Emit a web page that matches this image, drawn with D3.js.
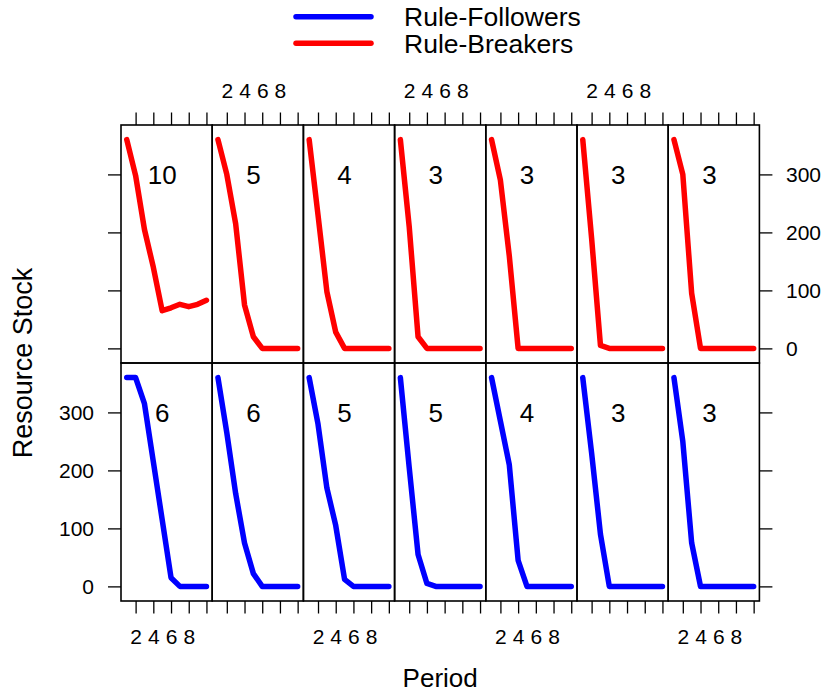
<!DOCTYPE html>
<html>
<head>
<meta charset="utf-8">
<script src="https://cdn.jsdelivr.net/npm/d3@7"></script>
<style>
  body { margin: 0; background: #fff; }
  svg { font-family: "Liberation Sans", Arial, sans-serif; }
  .axis text { font-size: 21px; fill: #000; }
  .axis line { stroke: #000; stroke-width: 1.3; }
</style>
</head>
<body>
<div id="chart"></div>
<script>
// x values of every line
const periods = [1, 2, 3, 4, 5, 6, 7, 8, 9, 10];

// one row per group, one entry per column (panel)
const groups = ["Rule-Breakers", "Rule-Followers"];
const groupColors = ["#ff0000", "#0000ff"];

const breakerLabels = [10, 5, 4, 3, 3, 3, 3];
const breakerStock = [
  [360, 298, 205, 140, 65, 70, 76, 72, 76, 83],
  [360, 300, 215, 75, 20, 0, 0, 0, 0, 0],
  [360, 230, 98, 28, 0, 0, 0, 0, 0, 0],
  [360, 210, 20, 0, 0, 0, 0, 0, 0, 0],
  [360, 290, 160, 0, 0, 0, 0, 0, 0, 0],
  [360, 190, 5, 0, 0, 0, 0, 0, 0, 0],
  [360, 300, 95, 0, 0, 0, 0, 0, 0, 0],
];

const followerLabels = [6, 6, 5, 5, 4, 3, 3];
const followerStock = [
  [360, 360, 315, 215, 115, 15, 0, 0, 0, 0],
  [360, 265, 160, 75, 22, 0, 0, 0, 0, 0],
  [360, 280, 170, 105, 12, 0, 0, 0, 0, 0],
  [360, 205, 55, 5, 0, 0, 0, 0, 0, 0],
  [360, 285, 210, 45, 0, 0, 0, 0, 0, 0],
  [360, 230, 90, 0, 0, 0, 0, 0, 0, 0],
  [360, 250, 75, 0, 0, 0, 0, 0, 0, 0],
];

const xTicks = [2, 4, 6, 8, 10];
const xTickLabels = ["2", "4", "6", "8", ""];
const yTicks = [0, 100, 200, 300];

const width = 822;
const height = 694;
const margin = { top: 125, right: 62.6, bottom: 93, left: 121 };
const tickLen = 12.5;

const columns = d3.range(breakerStock.length);

const panels = [];
columns.forEach((c) => {
  panels.push({ row: groups[0], col: c, color: groupColors[0], label: breakerLabels[c], values: breakerStock[c] });
  panels.push({ row: groups[1], col: c, color: groupColors[1], label: followerLabels[c], values: followerStock[c] });
});

const xGrid = d3.scaleBand().domain(columns).range([margin.left, width - margin.right]);
const yGrid = d3.scaleBand().domain(groups).range([margin.top, height - margin.bottom]);
const x = d3.scaleLinear().domain([0.35, 10.65]).range([0, xGrid.bandwidth()]);
const y = d3.scaleLinear().domain([-25.2, 385.2]).range([yGrid.bandwidth(), 0]);

const svg = d3.select("#chart").append("svg")
  .attr("width", width)
  .attr("height", height)
  .attr("viewBox", [0, 0, width, height]);

// legend
const legend = svg.append("g").attr("class", "legend");
const legendItems = [
  { name: "Rule-Followers", color: groupColors[1] },
  { name: "Rule-Breakers", color: groupColors[0] },
];
legendItems.forEach((d, i) => {
  const ly = 16.7 + i * 26.6;
  legend.append("line")
    .attr("x1", 296).attr("x2", 371)
    .attr("y1", ly).attr("y2", ly)
    .attr("stroke", d.color)
    .attr("stroke-width", 5.5)
    .attr("stroke-linecap", "round");
  legend.append("text")
    .attr("x", 404).attr("y", ly)
    .attr("dy", "0.36em")
    .attr("font-size", 26.5)
    .text(d.name);
});

// top axes (labels on even columns only)
columns.forEach((c) => {
  svg.append("g")
    .attr("class", "axis")
    .attr("transform", `translate(${xGrid(c)},${margin.top})`)
    .call(d3.axisTop(x).tickValues(xTicks).tickSize(tickLen).tickPadding(14.2)
      .tickFormat((d, i) => (c % 2 === 1 ? xTickLabels[i] : "")))
    .call((g) => g.select(".domain").remove());

  svg.append("g")
    .attr("class", "axis")
    .attr("transform", `translate(${xGrid(c)},${height - margin.bottom})`)
    .call(d3.axisBottom(x).tickValues(xTicks).tickSize(tickLen).tickPadding(15.6)
      .tickFormat((d, i) => (c % 2 === 0 ? xTickLabels[i] : "")))
    .call((g) => g.select(".domain").remove());
});

// left / right axes
groups.forEach((r, ri) => {
  svg.append("g")
    .attr("class", "axis")
    .attr("transform", `translate(${margin.left},${yGrid(r)})`)
    .call(d3.axisLeft(y).tickValues(yTicks).tickSize(13).tickPadding(14)
      .tickFormat((d) => (ri === 1 ? d : "")))
    .call((g) => g.select(".domain").remove());

  svg.append("g")
    .attr("class", "axis")
    .attr("transform", `translate(${width - margin.right},${yGrid(r)})`)
    .call(d3.axisRight(y).tickValues(yTicks).tickSize(13).tickPadding(13.6)
      .tickFormat((d) => (ri === 0 ? d : "")))
    .call((g) => g.select(".domain").remove());
});

const line = d3.line()
  .x((d, i) => x(periods[i]))
  .y((d) => y(d));

const panel = svg.append("g")
  .selectAll(".panel")
  .data(panels)
  .join("g")
  .attr("class", "panel")
  .attr("transform", (d) => `translate(${xGrid(d.col)},${yGrid(d.row)})`);

panel.append("path")
  .attr("d", (d) => line(d.values))
  .attr("fill", "none")
  .attr("stroke", (d) => d.color)
  .attr("stroke-width", 5.5)
  .attr("stroke-linecap", "round")
  .attr("stroke-linejoin", "round");

panel.append("text")
  .attr("x", x(5))
  .attr("y", y(300))
  .attr("dy", "0.36em")
  .attr("text-anchor", "middle")
  .attr("font-size", 26)
  .text((d) => d.label);

panel.append("rect")
  .attr("width", xGrid.bandwidth())
  .attr("height", yGrid.bandwidth())
  .attr("fill", "none")
  .attr("stroke", "#000")
  .attr("stroke-width", 1.6);

// axis titles
svg.append("text")
  .attr("transform", `translate(22,${(margin.top + height - margin.bottom) / 2}) rotate(-90)`)
  .attr("text-anchor", "middle")
  .attr("dy", "0.36em")
  .attr("font-size", 27)
  .text("Resource Stock");

svg.append("text")
  .attr("x", (margin.left + width - margin.right) / 2)
  .attr("y", 678)
  .attr("text-anchor", "middle")
  .attr("dy", "0.36em")
  .attr("font-size", 26)
  .text("Period");
</script>
</body>
</html>
